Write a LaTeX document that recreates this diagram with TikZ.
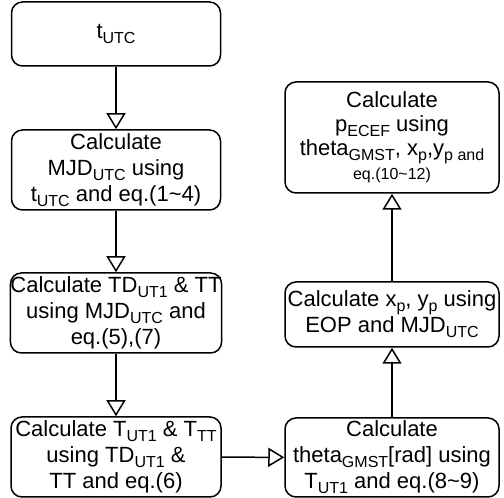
\documentclass[tikz,border=0pt]{standalone}
\usepackage{fontspec}
\setmainfont{Liberation Sans}
\usetikzlibrary{arrows.meta}
\newcommand\sbx[1]{\raisebox{-5pt}{\fontsize{16}{16}\selectfont #1}}
\newcommand\smallsz[1]{{\fontsize{16}{16}\selectfont #1}}
\begin{document}
\begin{tikzpicture}[x=1pt,y=1pt,
  box/.style={draw, line width=1.5pt, rounded corners=11pt, rectangle, align=center,
    inner sep=0pt, font=\fontsize{22}{26}\selectfont},
  flow/.style={line width=1.5pt, -{Triangle[open,length=16pt,width=19pt,line width=1.5pt]}}]
\useasboundingbox (0,0) rectangle (504,498);
\node[box, minimum width=209pt, minimum height=64pt] (a) at (116,464) {t\sbx{UTC}};
\node[box, minimum width=209pt, minimum height=80pt] (b) at (116,328)
  {Calculate\\MJD\sbx{UTC} using\\t\sbx{UTC} and eq.(1\textasciitilde4)};
\node[box, minimum width=210pt, minimum height=80pt] (c) at (116,185)
  {Calculate TD\sbx{UT1} \& TT\\using MJD\sbx{UTC} and\\eq.(5),(7)};
\node[box, minimum width=210pt, minimum height=80pt] (d) at (116,41)
  {Calculate T\sbx{UT1} \& T\sbx{TT}\\using TD\sbx{UT1} \&\\TT and eq.(6)};
\node[box, minimum width=214pt, minimum height=79pt] (e) at (392,40.5)
  {Calculate\\theta\sbx{GMST}[rad] using\\T\sbx{UT1} and eq.(8\textasciitilde9)};
\node[box, minimum width=214pt, minimum height=65pt] (f) at (392,183.5)
  {Calculate x\sbx{p}, y\sbx{p} using\\EOP and MJD\sbx{UTC}};
\node[box, minimum width=214pt, minimum height=111pt, font=\fontsize{22}{24}\selectfont] (g) at (392,360.5)
  {Calculate\\p\sbx{ECEF} using\\theta\sbx{GMST}, x\sbx{p},y\sbx{p and}\\\smallsz{eq.(10\textasciitilde12)}};
\draw[flow] (a) -- (b);
\draw[flow] (b) -- (c);
\draw[flow] (c) -- (d);
\draw[flow] (d) -- (e);
\draw[flow] (e) -- (f);
\draw[flow] (f) -- (g);
\end{tikzpicture}
\end{document}
